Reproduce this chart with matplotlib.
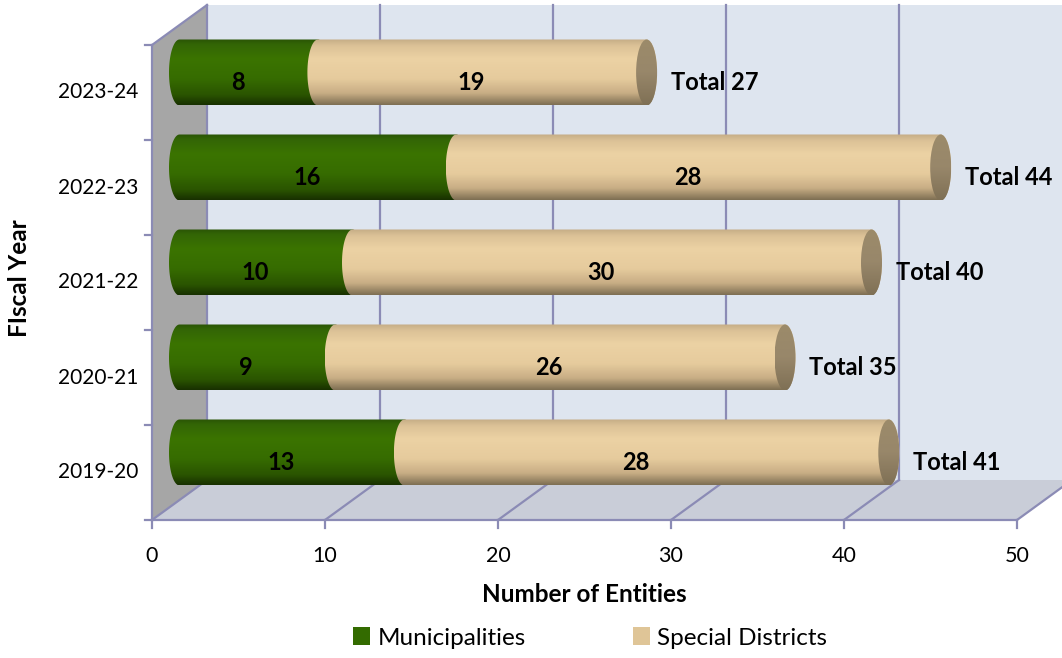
import numpy as np
import matplotlib
matplotlib.use('Agg')
import matplotlib.pyplot as plt
from matplotlib.path import Path
from matplotlib.patches import PathPatch, Polygon, Patch, Ellipse
from matplotlib.colors import LinearSegmentedColormap

# ---------------- data ----------------
years = ['2019-20', '2020-21', '2021-22', '2022-23', '2023-24']
municipalities = [13, 9, 10, 16, 8]
special_districts = [28, 26, 30, 28, 19]
totals = [m + s for m, s in zip(municipalities, special_districts)]
x_ticks = [0, 10, 20, 30, 40, 50]
series_names = ['Municipalities', 'Special Districts']

plt.rcParams['font.family'] = ['Lato', 'DejaVu Sans']

W, H = 1062, 658
fig = plt.figure(figsize=(W / 100, H / 100), dpi=100)
ax = fig.add_axes([0, 0, 1, 1])
ax.axis('off')

# layout (pixel geometry -> data units)
X0PX, X1PX, Y0PX, CATPX = 152, 1017, 520, 95
PX = (x_ticks[-1] - x_ticks[0]) / (X1PX - X0PX)   # data units per px (x)
DX = 55 * PX          # depth offset in x
DY = 40 / CATPX       # depth offset in y
NC = len(years)
XMAX = x_ticks[-1]

GRID = '#8b8bb5'
WALL = '#dee5ef'
FLOOR = '#c9cdd8'
SIDE = '#a6a6a6'

# back wall
ax.add_patch(Polygon([(DX, DY), (XMAX + DX, DY), (XMAX + DX, NC + DY), (DX, NC + DY)],
                     closed=True, facecolor=WALL, edgecolor='none', zorder=0))
# floor
ax.add_patch(Polygon([(0, 0), (XMAX, 0), (XMAX + DX, DY), (DX, DY)],
                     closed=True, facecolor=FLOOR, edgecolor='none', zorder=0.5))
# left side wall
ax.add_patch(Polygon([(0, 0), (DX, DY), (DX, NC + DY), (0, NC)],
                     closed=True, facecolor=SIDE, edgecolor='none', zorder=0.5))

lw = 1.6
# vertical gridlines on back wall + floor diagonals
for v in x_ticks:
    if v > 0:
        ax.plot([v + DX, v + DX], [DY, NC + DY], color=GRID, lw=lw, zorder=1)
    ax.plot([v, v + DX], [0, DY], color=GRID, lw=lw, zorder=1)
    ax.plot([v, v], [0, -8 / CATPX], color=GRID, lw=lw, zorder=1)
    ax.text(v, -36 / CATPX, f'{v}', ha='center', va='center', fontsize=15.5, color='black')
# floor front edge
ax.plot([0, XMAX], [0, 0], color=GRID, lw=lw, zorder=1.2)
# left axis and wall edges
ax.plot([0, 0], [0, NC], color=GRID, lw=lw, zorder=1.2)
ax.plot([0, DX], [NC, NC + DY], color=GRID, lw=lw, zorder=1.2)
ax.plot([DX, DX], [DY, NC + DY], color=GRID, lw=lw, zorder=1.2)
for i in range(NC + 1):
    ax.plot([-7 * PX, 0], [i, i], color=GRID, lw=lw, zorder=1.2)
for i, yr in enumerate(years):
    ax.text(-14 * PX, i + 0.5, yr, ha='right', va='center', fontsize=15, color='black')

# ---------------- cylinders ----------------
green_cm = LinearSegmentedColormap.from_list('g', [
    (0.0, '#2a5405'), (0.08, '#336606'), (0.3, '#3b7400'), (0.6, '#366c00'),
    (0.85, '#2a5400'), (1.0, '#183000')])
tan_cm = LinearSegmentedColormap.from_list('t', [
    (0.0, '#c5ad86'), (0.1, '#dcc297'), (0.3, '#ecd2a4'), (0.6, '#e6cb9d'),
    (0.82, '#c8ae85'), (1.0, '#7e6f53')])
cap_cm = LinearSegmentedColormap.from_list('c', [
    (0.0, '#9c8b6a'), (0.5, '#98876a'), (1.0, '#7f7055')])

R = 33 / CATPX
EW = 10.5 * PX
grad = np.linspace(0, 1, 200).reshape(-1, 1)


def body_path(xs, xe, yc):
    t1 = np.linspace(np.pi / 2, -np.pi / 2, 40)
    right = np.column_stack([xe + EW * np.cos(t1), yc + R * np.sin(t1)])
    t2 = np.linspace(-np.pi / 2, -3 * np.pi / 2, 40)
    left = np.column_stack([xs + EW * np.cos(t2), yc + R * np.sin(t2)])
    verts = np.vstack([[xs, yc + R], right, left, [xs, yc + R]])
    return Path(verts, closed=True)


def draw_body(xs, xe, yc, cmap, z):
    patch = PathPatch(body_path(xs, xe, yc), facecolor='none', edgecolor='none',
                      transform=ax.transData)
    im = ax.imshow(grad, cmap=cmap, aspect='auto', origin='upper',
                   extent=[xs - EW, xe + EW, yc - R, yc + R], zorder=z,
                   interpolation='bilinear')
    im.set_clip_path(patch)


def draw_cap(xe, yc, z):
    ell = Ellipse((xe, yc), 2 * EW, 2 * R, transform=ax.transData,
                  facecolor='none', edgecolor='none')
    im = ax.imshow(grad, cmap=cap_cm, aspect='auto', origin='upper',
                   extent=[xe - EW, xe + EW, yc - R, yc + R], zorder=z,
                   interpolation='bilinear')
    im.set_clip_path(ell)


LBL_DX = 0.3 * DX
LBL_DY = 0.26 * DY
for i in range(NC):
    yc = i + 0.5 + DY / 2
    xb = DX / 2
    m, s, tot = municipalities[i], special_districts[i], totals[i]
    draw_body(xb, xb + m, yc, green_cm, 3)
    draw_body(xb + m, xb + tot, yc, tan_cm, 3.1)
    draw_cap(xb + tot, yc, 3.2)
    ly = i + 0.5 + LBL_DY
    ax.text(m / 2 + LBL_DX, ly, f'{m}', ha='center', va='center',
            fontsize=17, fontweight='bold', color='black', zorder=10)
    ax.text(m + s / 2 + LBL_DX, ly, f'{s}', ha='center', va='center',
            fontsize=17, fontweight='bold', color='black', zorder=10)
    ax.text(tot + 3.0, ly, f'Total {tot}', ha='left', va='center',
            fontsize=17, fontweight='bold', color='black', zorder=10)

# axis titles
ax.text(XMAX / 2, -75 / CATPX, 'Number of Entities', ha='center', va='center',
        fontsize=17.5, fontweight='bold')
ax.text(-132 * PX, NC / 2 + 0.05, 'FIscal Year', ha='center', va='center',
        fontsize=17.5, fontweight='bold', rotation=90)

# legend
handles = [Patch(facecolor='#336b00', edgecolor='none'),
           Patch(facecolor='#dfc597', edgecolor='none')]
ax.legend(handles, series_names, loc='center', ncol=2, frameon=False,
          bbox_to_anchor=(590 / W, 1 - 638 / H), bbox_transform=fig.transFigure,
          fontsize=17.5, handlelength=0.72, handleheight=0.72, handletextpad=0.3,
          columnspacing=4.4)

ax.set_xlim(-X0PX * PX, (W - X0PX) * PX)
ax.set_ylim((Y0PX - H) / CATPX, Y0PX / CATPX)
fig.savefig('out.png', dpi=100)
